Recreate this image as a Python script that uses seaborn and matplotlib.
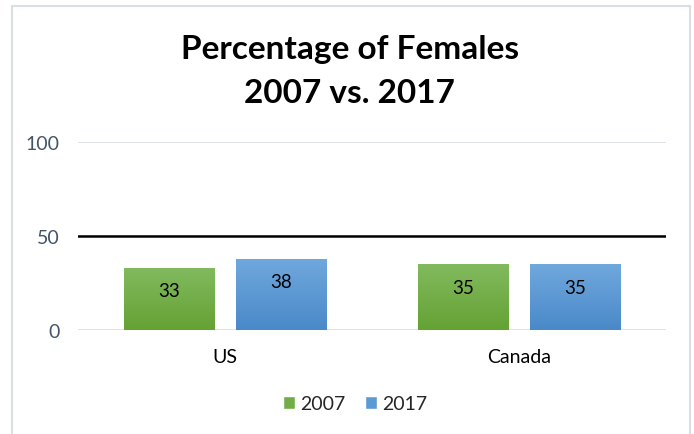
import numpy as np

import pandas as pd

import matplotlib.pyplot as plt

import seaborn as sns

from matplotlib.patches import Rectangle

from matplotlib.colors import LinearSegmentedColormap


# ==========================================
# CHART DATA
# ==========================================

countries = ["US", "Canada"]

years = ["2007", "2017"]

values_2007 = [33, 35]

values_2017 = [38, 35]

year_colors = ["#70AD47", "#5B9BD5"]

# light top / dark bottom of the bar gradients
gradient_colors = [
    ("#81BA5E", "#65A234"),
    ("#70A8DD", "#4A89C9")
]

y_ticks = [0, 50, 100]


# ==========================================
# BUILD TABLE
# ==========================================

dataframe = pd.DataFrame({

    "Country": countries * 2,

    "Year": [years[0]] * len(countries) + [years[1]] * len(countries),

    "Percentage": values_2007 + values_2017
})


# ==========================================
# FIGURE
# ==========================================

sns.set_theme(style="white")

plt.rcParams["font.family"] = ["Lato", "DejaVu Sans"]

fig = plt.figure(figsize=(6.94, 4.35), dpi=100)

ax = fig.add_axes([78 / 694, 104 / 435, 588 / 694, 188 / 435])

# light chart border like the spreadsheet frame
fig.patches.append(
    Rectangle(
        (12 / 694, -0.05),
        678 / 694,
        (435 - 7) / 435 + 0.05,
        transform=fig.transFigure,
        fill=False,
        edgecolor="#D9DEE5",
        linewidth=1.5
    )
)

sns.barplot(
    data=dataframe,
    x="Country",
    y="Percentage",
    hue="Year",
    hue_order=years,
    palette=year_colors,
    width=0.76,
    gap=0.19,
    saturation=1,
    ax=ax,
    zorder=3
)


# ------------------------------------------
# GRADIENT FILL + VALUE LABELS
# ------------------------------------------

gradient = np.linspace(1, 0, 64).reshape(-1, 1)

for container, (top_color, bottom_color) in zip(ax.containers, gradient_colors):

    cmap = LinearSegmentedColormap.from_list(
        "bar_gradient", [top_color, bottom_color]
    )

    for bar in container:

        x0 = bar.get_x()

        width = bar.get_width()

        height = bar.get_height()

        image = ax.imshow(
            1 - gradient,
            cmap=cmap,
            extent=(x0, x0 + width, 0, height),
            aspect="auto",
            origin="upper",
            zorder=3.5
        )

        image.set_clip_path(bar)

        bar.set_edgecolor("#FFFFFF")

        bar.set_linewidth(0.6)

        ax.annotate(
            f"{height:.0f}",
            xy=(x0 + width / 2, height),
            xytext=(0, -16.5),
            textcoords="offset points",
            ha="center",
            va="center",
            fontsize=13.5,
            color="black",
            zorder=4
        )


# ------------------------------------------
# AXES STYLE
# ------------------------------------------

ax.set_ylim(0, 100)

ax.set_xlim(-0.5, 1.5)

ax.set_yticks(y_ticks)

ax.yaxis.grid(True, color="#DDE1E6", linewidth=1.3, zorder=0)

ax.axhline(50, color="black", linewidth=1.8, zorder=2)

sns.despine(ax=ax, left=True, bottom=True)

ax.tick_params(axis="y", length=0, pad=13, labelsize=14, labelcolor="#44546A")

ax.tick_params(axis="x", length=0, pad=13, labelsize=14, labelcolor="black")

ax.set_xlabel("")

ax.set_ylabel("")


# ------------------------------------------
# LEGEND
# ------------------------------------------

sns.move_legend(
    ax,
    "center",
    bbox_to_anchor=(0.512, 0.069),
    bbox_transform=fig.transFigure,
    ncol=2,
    title=None,
    frameon=False,
    fontsize=14,
    handlelength=0.6,
    handleheight=0.6,
    handletextpad=0.3,
    columnspacing=1.0
)


# ------------------------------------------
# TITLE
# ------------------------------------------

fig.text(
    0.505,
    (435 - 59) / 435,
    "Percentage of Females",
    ha="center",
    va="baseline",
    fontsize=24,
    fontweight="bold",
    color="black"
)

fig.text(
    0.503,
    (435 - 103) / 435,
    "2007 vs. 2017",
    ha="center",
    va="baseline",
    fontsize=24,
    fontweight="bold",
    color="black"
)

fig.savefig("out.png", dpi=100)
